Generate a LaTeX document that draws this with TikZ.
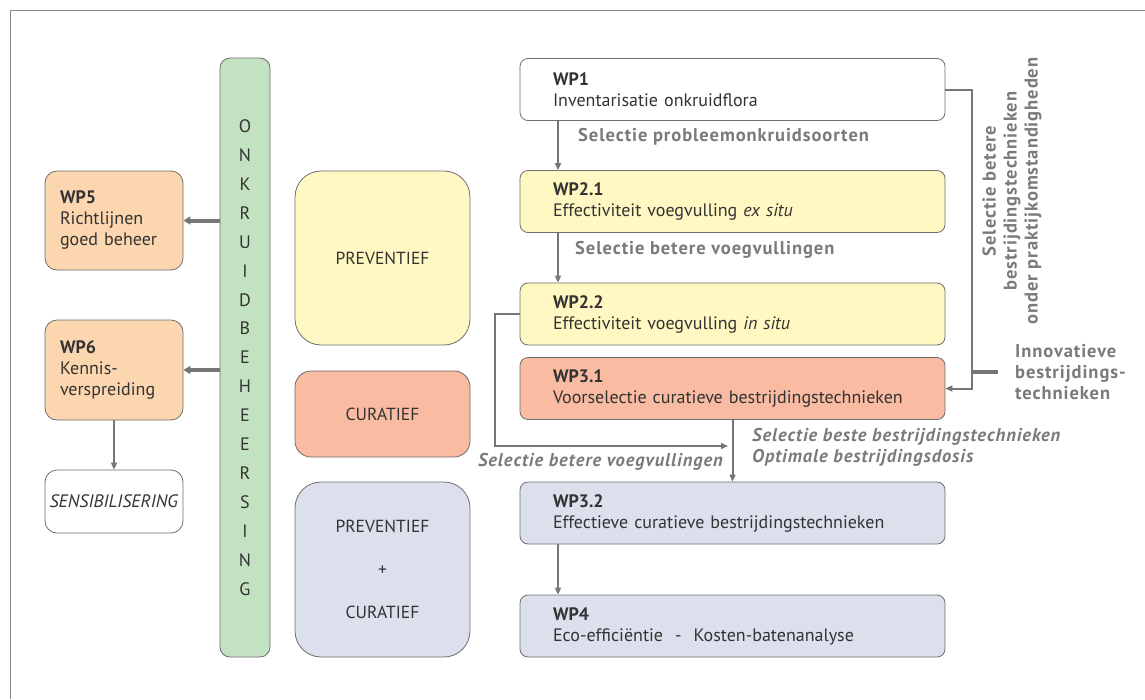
\documentclass[tikz,border=0pt]{standalone}
\usepackage{fontspec}
\setmainfont{PT Sans}
\usepackage{xcolor}
\usetikzlibrary{shapes,arrows.meta,positioning,calc}

\definecolor{framegray}{HTML}{8A8A8A}
\definecolor{boxgray}{HTML}{6E6E6E}
\definecolor{arrowgray}{HTML}{767676}
\definecolor{txtgray}{HTML}{333333}
\definecolor{lblgray}{HTML}{7A7A7A}
\definecolor{prevfill}{HTML}{FFF8C2}
\definecolor{curfill}{HTML}{F9BBA1}
\definecolor{bothfill}{HTML}{DCDFEC}
\definecolor{wpfill}{HTML}{FCD6AF}
\definecolor{barfill}{HTML}{C3E2C2}

\newcommand{\lblfont}{\fontsize{18.5}{21}\selectfont\bfseries\addfontfeature{LetterSpace=5}}

\begin{document}
\begin{tikzpicture}[
    x=1pt, y=-1pt,
    font=\fontsize{18}{21}\selectfont,
    wp/.style={rectangle, rounded corners=8pt, draw=boxgray, line width=0.8pt, text=txtgray,
        minimum width=425pt, minimum height=62pt, text width=359pt, inner xsep=33pt, align=left},
    side/.style={rectangle, rounded corners=12pt, draw=boxgray, line width=0.8pt, text=txtgray,
        minimum width=138pt, text width=108pt, inner xsep=15pt, align=left},
    phase/.style={rectangle, rounded corners=26pt, draw=boxgray, line width=0.8pt, text=txtgray,
        minimum width=175pt, align=center, font=\fontsize{17.5}{21}\selectfont},
    arrow/.style={-{Triangle[length=7pt,width=6pt]}, draw=arrowgray, line width=2pt},
    fat/.style={-{Triangle[length=7pt,width=8pt]}, draw=arrowgray, line width=4pt},
    lbl/.style={text=lblgray, font=\lblfont, inner sep=0pt}
]
\useasboundingbox (0,0) rectangle (1145,699);

% frame
\draw[framegray, line width=1pt] (10,699) -- (10,10) -- (1145,10);

% onkruidbeheersing bar
\node[rectangle, rounded corners=10pt, draw=boxgray, line width=0.8pt, fill=barfill,
    minimum width=50pt, minimum height=599pt, align=center, text=txtgray,
    font=\fontsize{18}{28.9}\selectfont] (bar) at (245,357.5)
    {O\\N\\K\\R\\U\\I\\D\\B\\E\\H\\E\\E\\R\\S\\I\\N\\G};

% left boxes
\node[side, fill=wpfill, minimum height=99pt] (wp5) at (114,220.5)
    {\textbf{WP5}\\Richtlijnen\\goed beheer};
\node[side, fill=wpfill, minimum height=100pt] (wp6) at (114,370)
    {\textbf{WP6}\\Kennis-\\verspreiding};
\node[side, fill=white, minimum height=63pt, text width=130pt, inner xsep=4pt, align=center] (sens) at (114,501.5)
    {\textit{SENSIBILISERING}};

% phases
\node[phase, fill=prevfill, minimum height=174pt] (prev) at (382.5,258) {PREVENTIEF};
\node[phase, fill=curfill, minimum height=86pt, rounded corners=16pt] (cur) at (382.5,414) {CURATIEF};
\node[phase, fill=bothfill, minimum height=175pt, font=\fontsize{17.5}{43}\selectfont] (both) at (382.5,569.5)
    {PREVENTIEF\\+\\CURATIEF};

% work packages
\node[wp, fill=white] (wp1) at (732.5,89.5)
    {\textbf{WP1}\\Inventarisatie onkruidflora};
\node[wp, fill=prevfill] (wp21) at (732.5,201.5)
    {\textbf{WP2.1}\\Effectiviteit voegvulling \textit{ex situ}};
\node[wp, fill=prevfill] (wp22) at (732.5,314)
    {\textbf{WP2.2}\\Effectiviteit voegvulling \textit{in situ}};
\node[wp, fill=curfill] (wp31) at (732.5,388.5)
    {\textbf{WP3.1}\\Voorselectie curatieve bestrijdingstechnieken};
\node[wp, fill=bothfill] (wp32) at (732.5,513)
    {\textbf{WP3.2}\\Effectieve curatieve bestrijdingstechnieken};
\node[wp, fill=bothfill] (wp4) at (732.5,626)
    {\textbf{WP4}\\Eco-efficiëntie~ -~ Kosten-batenanalyse};

% labels
\node[lbl, anchor=west] (l1) at (578,137) {Selectie probleemonkruidsoorten};
\node[lbl, anchor=west] (l2) at (575,250) {Selectie betere voegvullingen};
\node[lbl, anchor=east, font=\lblfont\itshape] (l3) at (723,462)
    {Selectie betere voegvullingen};
\node[lbl, anchor=west, align=left, font=\lblfont\itshape] (l4) at (752,447)
    {Selectie beste bestrijdingstechnieken\\Optimale bestrijdingsdosis};
\node[lbl, rotate=90, align=center] (l5) at (1012,191)
    {Selectie betere\\bestrijdingstechnieken\\onder praktijkomstandigheden};
\node[lbl, anchor=west, align=left] (innov) at (1015,372)
    {Innovatieve\\bestrijdings-\\technieken};

% arrows
\draw[fat] (bar.west |- wp5.east) -- (wp5.east);
\draw[fat] (bar.west |- wp6.east) -- (wp6.east);
\draw[arrow] (wp6) -- (sens);

\draw[arrow] (wp1.south -| 558,0) -- (wp21.north -| 558,0);
\draw[arrow] (wp21.south -| 558,0) -- (wp22.north -| 558,0);
\draw[arrow] (wp32.south -| 558,0) -- (wp4.north -| 558,0);
\draw[arrow] (wp31.south) -- (wp32.north);

\coordinate (mid) at (728,446);
\draw[arrow] (wp22.west) -- ++(-25,0) |- (mid);

\coordinate (join) at (972,372);
\draw[arrow] (wp1.east) -- ++(27,0) |- (wp31.east);
\draw[draw=arrowgray, line width=4pt] (join) -- ++(26,0);

\end{tikzpicture}
\end{document}
